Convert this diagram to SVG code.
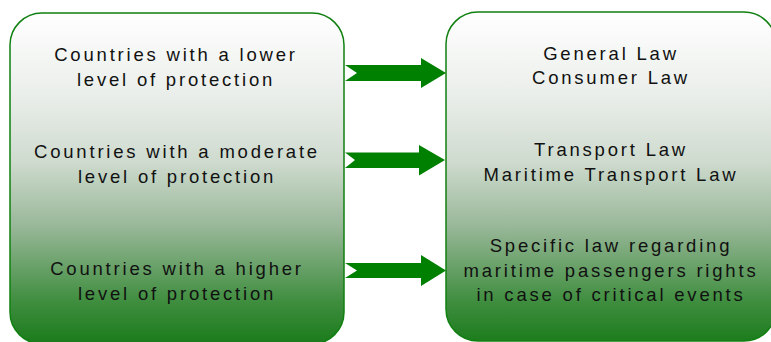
<svg xmlns="http://www.w3.org/2000/svg" width="771" height="342" viewBox="0 0 771 342">
<defs>
<linearGradient id="g" gradientUnits="userSpaceOnUse" x1="0" y1="13" x2="0" y2="342">
<stop offset="0" stop-color="#ffffff"/>
<stop offset="0.25" stop-color="#eaeeea"/>
<stop offset="0.45" stop-color="#cfdbcf"/>
<stop offset="0.65" stop-color="#98b798"/>
<stop offset="0.88" stop-color="#3e8d3e"/>
<stop offset="1" stop-color="#1c7c1c"/>
</linearGradient>
<style>
.box{fill:url(#g);stroke:#108010;stroke-width:1.5}
.t{font-family:"Liberation Sans",Arial,sans-serif;font-size:18.5px;letter-spacing:2.8px;fill:#111;text-anchor:middle}
.arr{fill:#008000}
</style>
</defs>
<g id="left">
<rect class="box" x="10" y="13" width="334" height="331" rx="32" ry="32"/>
<text class="t" x="176" y="61">Countries with a lower</text>
<text class="t" x="176" y="86">level of protection</text>
<text class="t" x="177" y="158">Countries with a moderate</text>
<text class="t" x="177" y="183">level of protection</text>
<text class="t" x="177" y="275">Countries with a higher</text>
<text class="t" x="177" y="300">level of protection</text>
</g>
<g id="right">
<rect class="box" x="446" y="12" width="330" height="329" rx="32" ry="32"/>
<text class="t" x="611" y="60">General Law</text>
<text class="t" x="611" y="84">Consumer Law</text>
<text class="t" x="611" y="156">Transport Law</text>
<text class="t" x="611" y="181">Maritime Transport Law</text>
<text class="t" x="611" y="252">Specific law regarding</text>
<text class="t" x="611" y="277">maritime passengers rights</text>
<text class="t" x="611" y="301">in case of critical events</text>
</g>
<g id="connectors">
<polygon class="arr" points="345,65 421,65 421,58 446,73 421,88 421,81 345,81 357,73"/>
<polygon class="arr" points="345,152.5 419,152.5 419,145 445,160 419,175.5 419,168 345,168 355,160"/>
<polygon class="arr" points="345,263 421,263 421,255 446,270.5 421,286 421,278 345,278 357,270.5"/>
</g>
</svg>
